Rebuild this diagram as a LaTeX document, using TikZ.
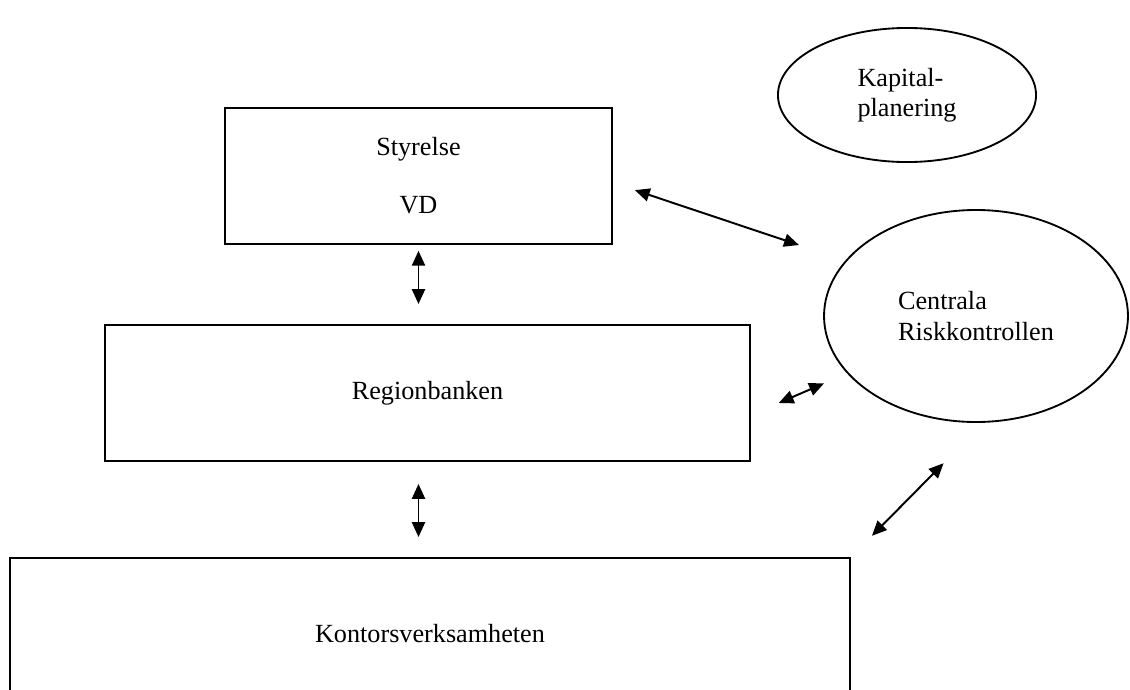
\documentclass[tikz,border=0pt]{standalone}
\usepackage{fontspec}
\setmainfont{Liberation Serif}
\usetikzlibrary{arrows.meta,shapes.geometric}
\tikzset{orgbox/.style={draw,line width=0.85pt,rectangle,align=center,
 font=\fontsize{12}{13.8}\selectfont,inner sep=0pt},
 orgoval/.style={draw,line width=0.85pt,ellipse,align=left,
 font=\fontsize{12}{13.8}\selectfont,inner sep=0pt},
 twoway/.style={{Triangle[length=6.8pt,width=6pt]}-{Triangle[length=6.8pt,width=6pt]},line width=0.9pt}}

\begin{document}
\begin{tikzpicture}[x=0.458pt,y=-0.458pt]
\useasboundingbox (0,0) rectangle (1130,689);
\node[orgbox,minimum width=177.2pt,minimum height=62.3pt] (styrelse) at (418.5,176) {Styrelse\\[12.8pt]VD};
\node[orgbox,minimum width=295.4pt,minimum height=62.3pt] (region) at (427.5,393) {Regionbanken};
\node[orgbox,minimum width=384.7pt,minimum height=69.6pt] (kontor) at (430,634) {Kontorsverksamheten};
\node[orgoval,minimum width=118.2pt,minimum height=61.4pt] (kapital) at (907,95) {Kapital-\\planering};
\node[orgoval,minimum width=139.2pt,minimum height=97.1pt] (centrala) at (976,316) {Centrala\\Riskkontrollen};
\draw[twoway,shorten <=2.7pt,shorten >=9.2pt] (styrelse.south) -- (styrelse.south |- region.north);
\draw[twoway,shorten <=10.1pt,shorten >=9.2pt] (styrelse.south |- region.south) -- (styrelse.south |- kontor.north);
\draw[twoway,shorten <=10.6pt,shorten >=22.4pt] ([yshift=-3.1pt]styrelse.east) -- (centrala.157);
\draw[twoway,shorten <=13.9pt,shorten >=11.5pt] ([yshift=-10.1pt]region.east) -- (centrala.204);
\draw[twoway,shorten <=13.7pt,shorten >=26pt] (kontor.north east) -- (centrala.274);
\end{tikzpicture}
\end{document}
